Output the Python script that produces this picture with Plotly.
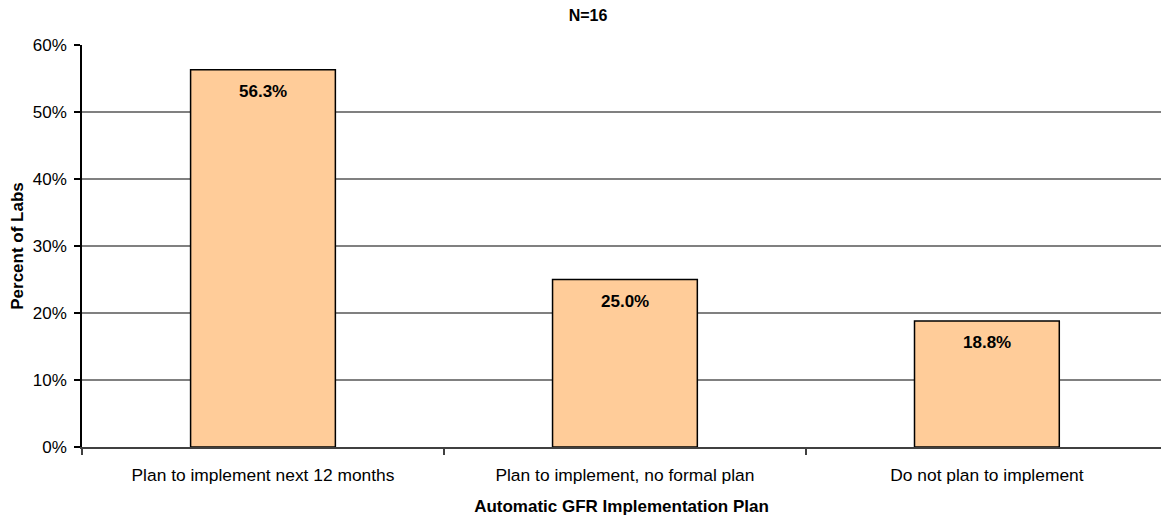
import plotly.graph_objects as go

categories = ["Plan to implement next 12 months", "Plan to implement, no formal plan", "Do not plan to implement"]
values = [56.3, 25.0, 18.8]
labels = ["56.3%", "25.0%", "18.8%"]
y_ticks = [0, 10, 20, 30, 40, 50, 60]
y_tick_labels = ["0%", "10%", "20%", "30%", "40%", "50%", "60%"]

FONT = "Liberation Sans, Arial, sans-serif"

fig = go.Figure()
fig.add_trace(go.Bar(
    x=list(range(len(categories))),
    y=values,
    width=0.40,
    marker=dict(color="#FFCC99", line=dict(color="#000000", width=1.5)),
    hoverinfo="skip",
))

for i, (v, t) in enumerate(zip(values, labels)):
    fig.add_annotation(x=i, y=v, text="<b>" + t + "</b>", showarrow=False,
                       yanchor="top", yshift=-10,
                       font=dict(family=FONT, size=17, color="#000000"))

fig.update_layout(
    width=1161, height=516,
    margin=dict(l=82, r=0, t=45, b=69),
    paper_bgcolor="white", plot_bgcolor="white",
    showlegend=False,
    font=dict(family=FONT, size=17, color="#000000"),
    title=dict(text="<b>N=16</b>", x=0.5065, xanchor="center", y=0.971, yanchor="middle",
               font=dict(family=FONT, size=16, color="#000000")),
    bargap=0.6,
)

fig.update_xaxes(
    range=[-0.5, 2.481],
    tickmode="array", tickvals=list(range(len(categories))), ticktext=categories,
    ticks="", showline=True, linecolor="#404040", linewidth=2,
    showgrid=False, zeroline=False,
    ticklabelstandoff=11,
    tickfont=dict(family=FONT, size=17.4, color="#000000"),
    title=dict(text="<b>Automatic GFR Implementation Plan</b>", standoff=16,
               font=dict(family=FONT, size=17, color="#000000")),
)
fig.update_xaxes(minor=dict(tickvals=[-0.5, 0.5, 1.5, 2.5], ticks="outside", ticklen=6,
                            tickcolor="#404040", tickwidth=2, showgrid=False))

fig.update_yaxes(
    range=[0, 60],
    tickmode="array", tickvals=y_ticks, ticktext=y_tick_labels,
    ticks="outside", ticklen=6, tickcolor="#000000", tickwidth=1.5,
    showline=True, linecolor="#000000", linewidth=1.5,
    showgrid=True, gridcolor="#808080", gridwidth=1.5,
    zeroline=False,
    ticklabelstandoff=4,
    tickfont=dict(family=FONT, size=17, color="#000000"),
    title=dict(text="<b>Percent of Labs</b>", standoff=5,
               font=dict(family=FONT, size=17, color="#000000")),
)

fig.write_html("out.html")
